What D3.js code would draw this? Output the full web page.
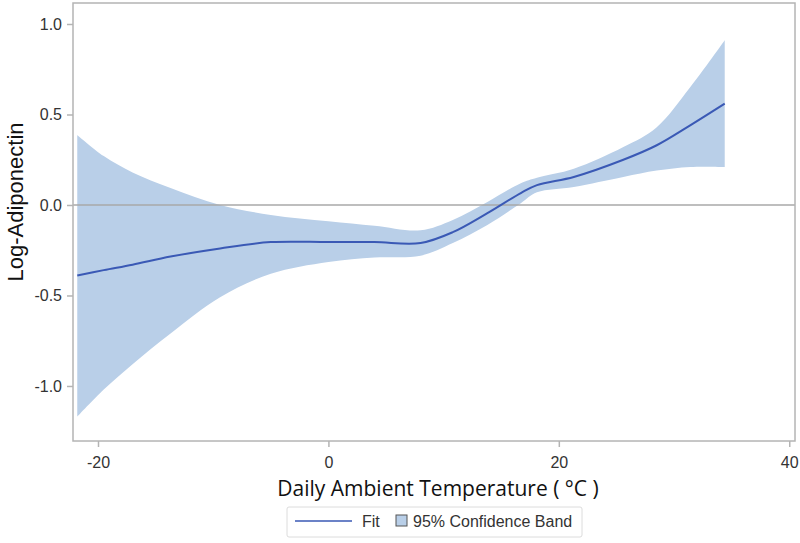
<!DOCTYPE html>
<html>
<head>
<meta charset="utf-8">
<script src="https://cdn.jsdelivr.net/npm/d3@7"></script>
<style>
  body { margin: 0; background: #fff; }
  svg { display: block; }
</style>
</head>
<body>
<div class="chart"></div>
<script>
// values
var temps = [-21.8, -19.5, -17, -13.7, -9.4, -5, 0, 4, 8, 10.8, 13.8, 16.7, 18.1, 21.3, 25.6, 28.5, 31.4, 34.4];
var fit   = [-0.39, -0.36, -0.33, -0.285, -0.24, -0.205, -0.205, -0.205, -0.21, -0.15, -0.045, 0.066, 0.11, 0.155, 0.25, 0.33, 0.44, 0.56];
var upper = [0.387, 0.27, 0.18, 0.094, 0.0, -0.055, -0.09, -0.115, -0.14, -0.083, 0.017, 0.12, 0.15, 0.20, 0.32, 0.43, 0.65, 0.91];
var lower = [-1.17, -1.02, -0.88, -0.71, -0.51, -0.38, -0.315, -0.29, -0.28, -0.21, -0.11, 0.01, 0.07, 0.10, 0.155, 0.19, 0.21, 0.21];
var xTicks = [-20, 0, 20, 40];
var yTicks = [-1.0, -0.5, 0.0, 0.5, 1.0];

var values = { width: 800, height: 543, left: 73, top: 3, right: 795, bottom: 441 };

var data = temps.map(function (t, i) {
  return { x: t, y: fit[i], lo: lower[i], hi: upper[i] };
});

var x = d3.scaleLinear().domain([-22.17, 40.5]).range([values.left, values.right]);
var y = d3.scaleLinear().domain([-1.304, 1.116]).range([values.bottom, values.top]);

var svg = d3.select('.chart')
            .append('svg')
            .attr('width', values.width)
            .attr('height', values.height);

// confidence band
var band = d3.area()
             .curve(d3.curveCatmullRom.alpha(0.5))
             .x(function (d) { return x(d.x); })
             .y0(function (d) { return y(d.lo); })
             .y1(function (d) { return y(d.hi); });

svg.append('path')
   .datum(data)
   .attr('d', band)
   .attr('fill', '#b9cfe8');

// zero reference line
svg.append('line')
   .attr('x1', values.left).attr('x2', values.right)
   .attr('y1', y(0)).attr('y2', y(0))
   .attr('stroke', '#a8a8a8')
   .attr('stroke-width', 1.5);

// fit line
var line = d3.line()
             .curve(d3.curveCatmullRom.alpha(0.5))
             .x(function (d) { return x(d.x); })
             .y(function (d) { return y(d.y); });

svg.append('path')
   .datum(data)
   .attr('d', line)
   .attr('fill', 'none')
   .attr('stroke', '#3a59b5')
   .attr('stroke-width', 2);

// frame
svg.append('rect')
   .attr('x', values.left).attr('y', values.top)
   .attr('width', values.right - values.left)
   .attr('height', values.bottom - values.top)
   .attr('fill', 'none')
   .attr('stroke', '#b4b4b4')
   .attr('stroke-width', 1.5);

// axes
var xAxis = d3.axisBottom(x).tickValues(xTicks).tickSize(6).tickPadding(10);
var yAxis = d3.axisLeft(y).tickValues(yTicks).tickSize(6).tickPadding(5);

var gx = svg.append('g')
            .attr('class', 'x axis')
            .attr('transform', 'translate(0,' + values.bottom + ')')
            .call(xAxis);
var gy = svg.append('g')
            .attr('class', 'y axis')
            .attr('transform', 'translate(' + values.left + ',0)')
            .call(yAxis);

[gx, gy].forEach(function (g) {
  g.select('.domain').remove();
  g.selectAll('.tick line').attr('stroke', '#b4b4b4').attr('stroke-width', 1.5);
  g.selectAll('.tick text')
   .attr('fill', '#333')
   .style('font-family', '"Liberation Sans", Arial, sans-serif')
   .style('font-size', '16px');
});
gy.selectAll('.tick text').text(function (d) { return d3.format('.1f')(d).replace('\u2212', '-'); });
gx.selectAll('.tick text').text(function (d) { return String(d); });

// axis titles
svg.append('text')
   .attr('transform', 'translate(23,202) rotate(-90)')
   .style('text-anchor', 'middle')
   .style('font-family', '"Liberation Sans", Arial, sans-serif')
   .style('font-size', '22px')
   .attr('fill', '#111')
   .text('Log-Adiponectin');

svg.append('text')
   .attr('x', 438)
   .attr('y', 496)
   .style('text-anchor', 'middle')
   .style('font-family', '"Open Sans", Lato, sans-serif')
   .style('font-size', '21px')
   .attr('fill', '#111')
   .text('Daily Ambient Temperature ( \u00B0C )');

// legend
var legend = svg.append('g').attr('class', 'legend');
legend.append('rect')
      .attr('x', 287).attr('y', 507)
      .attr('width', 295).attr('height', 30)
      .attr('rx', 2)
      .attr('fill', 'none')
      .attr('stroke', '#dcdcdc');
legend.append('line')
      .attr('x1', 295).attr('x2', 352)
      .attr('y1', 521).attr('y2', 521)
      .attr('stroke', '#3a59b5')
      .attr('stroke-width', 1.5);
legend.append('text')
      .attr('x', 362).attr('y', 527)
      .style('font-family', '"Liberation Sans", Arial, sans-serif')
      .style('font-size', '16px')
      .attr('fill', '#333')
      .text('Fit');
legend.append('rect')
      .attr('x', 396).attr('y', 515)
      .attr('width', 11).attr('height', 11)
      .attr('fill', '#b9cfe8')
      .attr('stroke', '#555');
legend.append('text')
      .attr('x', 413).attr('y', 527)
      .style('font-family', '"Liberation Sans", Arial, sans-serif')
      .style('font-size', '16px')
      .attr('fill', '#333')
      .text('95% Confidence Band');
</script>
</body>
</html>
